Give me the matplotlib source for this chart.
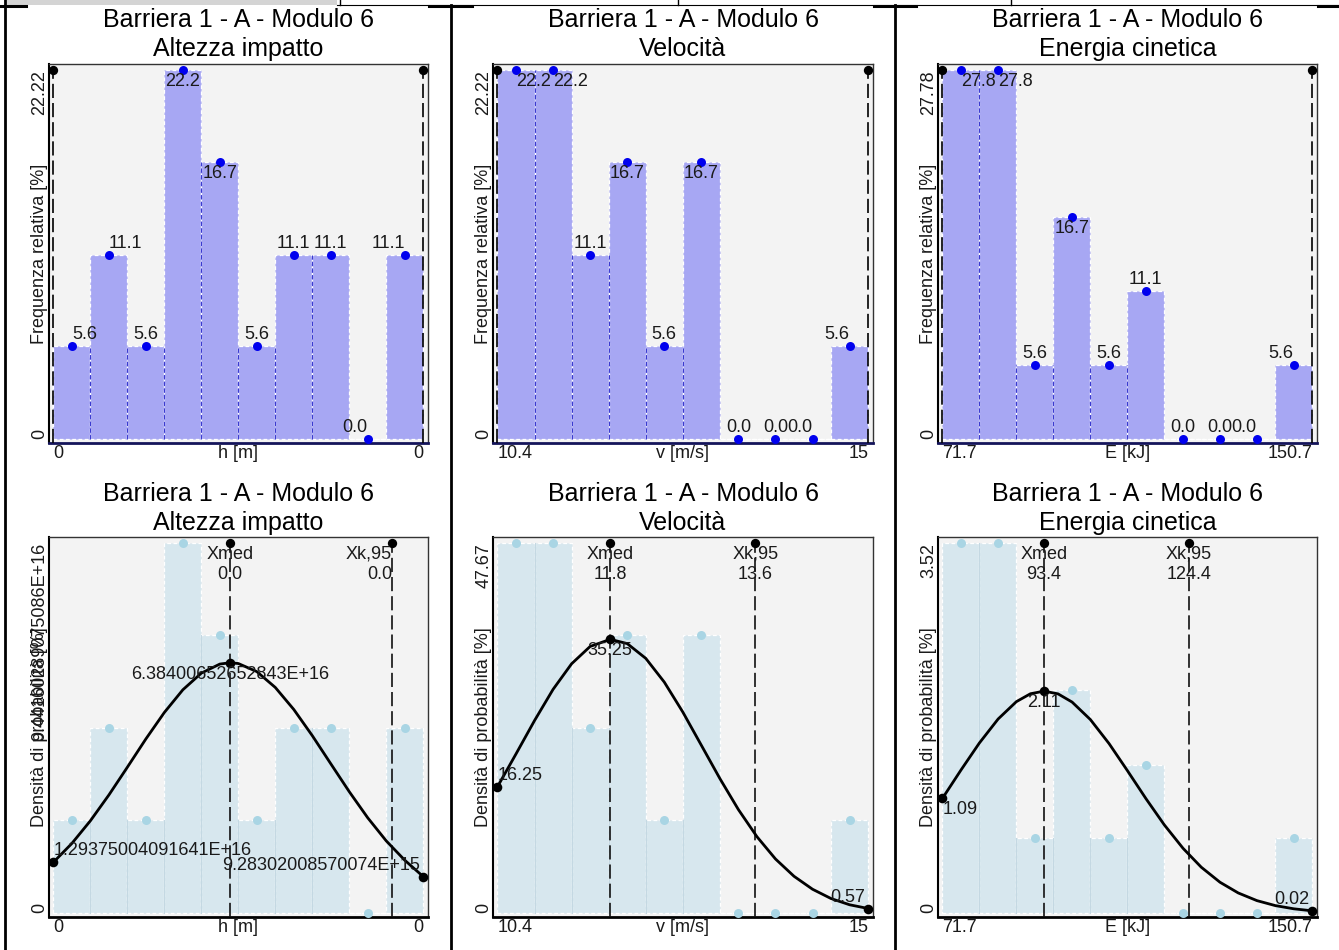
import matplotlib
matplotlib.use("Agg")
import matplotlib.pyplot as plt
from matplotlib.lines import Line2D
from matplotlib.patches import Rectangle
import numpy as np

W, H = 1339, 950
plt.rcParams['font.family'] = ['Liberation Sans', 'DejaVu Sans']

# ---------------- data ----------------
title_main = "Barriera 1 - A - Modulo 6"
subtitles = ["Altezza impatto", "Velocità", "Energia cinetica"]
xlabels = ["h [m]", "v [m/s]", "E [kJ]"]

# x ranges (Altezza shown in relative units: all values print as 0)
h_range = [0.0, 1.0]
v_range = [10.4, 15.0]
e_range = [71.7, 150.7]
h_xtick_labels = ["0", "0"]
v_xtick_labels = ["10.4", "15"]
e_xtick_labels = ["71.7", "150.7"]

# relative frequency [%] per bin
freq_h = [5.6, 11.1, 5.6, 22.2, 16.7, 5.6, 11.1, 11.1, 0.0, 11.1]
freq_v = [22.2, 22.2, 11.1, 16.7, 5.6, 16.7, 0.0, 0.0, 0.0, 5.6]
freq_e = [27.8, 27.8, 5.6, 16.7, 5.6, 11.1, 0.0, 0.0, 0.0, 5.6]
freq_ymax = [22.22, 22.22, 27.78]
freq_ymax_labels = ["22.22", "22.22", "27.78"]

# probability density axis maxima
dens_ymax = [9.44e16, 47.67, 3.52]
dens_ymax_labels = ["9.44160289075086E+16", "47.67", "3.52"]

# fitted density curves
curve_h_x = [0.0, 0.05, 0.10, 0.15, 0.20, 0.25, 0.30, 0.35, 0.40, 0.45, 0.478,
             0.50, 0.55, 0.60, 0.65, 0.70, 0.75, 0.80, 0.85, 0.90, 0.95, 1.0]
curve_h_y = [1.29375e16, 1.775e16, 2.352e16, 3.010e16, 3.719e16, 4.439e16, 5.115e16,
             5.693e16, 6.118e16, 6.349e16, 6.384e16, 6.363e16, 6.157e16, 5.753e16,
             5.191e16, 4.524e16, 3.807e16, 3.094e16, 2.427e16, 1.839e16, 1.346e16, 0.928e16]
curve_v_x = [10.40, 10.63, 10.86, 11.09, 11.32, 11.55, 11.80, 12.01, 12.24, 12.47, 12.70,
             12.93, 13.16, 13.39, 13.62, 13.85, 14.08, 14.31, 14.54, 14.77, 15.00]
curve_v_y = [16.25, 20.48, 24.78, 28.80, 32.10, 34.33, 35.25, 34.70, 32.80, 29.74, 25.88,
             21.60, 17.31, 13.31, 9.82, 6.95, 4.72, 3.05, 1.85, 1.05, 0.57]
curve_e_x = [71.7, 75.7, 79.6, 83.6, 87.5, 90.5, 93.4, 96.4, 99.4, 103.3, 107.3,
             111.2, 115.2, 119.1, 123.1, 127.0, 131.0, 134.9, 138.9, 142.8, 146.8, 150.7]
curve_e_y = [1.09, 1.362, 1.617, 1.845, 2.010, 2.085, 2.11, 2.084, 2.006, 1.840, 1.611,
             1.355, 1.086, 0.838, 0.615, 0.435, 0.292, 0.190, 0.117, 0.070, 0.039, 0.02]

# labelled curve points: left end, peak, right end
pts_h_x = [0.0, 0.478, 1.0]
pts_h_y = [1.29375004091641e16, 6.38400652652843e16, 9.28302008570074e15]
pts_h_labels = ["1.29375004091641E+16", "6.38400652652843E+16", "9.28302008570074E+15"]
pts_v_x = [10.4, 11.8, 15.0]
pts_v_y = [16.25, 35.25, 0.57]
pts_v_labels = ["16.25", "35.25", "0.57"]
pts_e_x = [71.7, 93.4, 150.7]
pts_e_y = [1.09, 2.11, 0.02]
pts_e_labels = ["1.09", "2.11", "0.02"]

# median and 95% characteristic values
xmed_pos = [0.478, 11.8, 93.4]
xmed_labels = ["0.0", "11.8", "93.4"]
xk95_pos = [0.916, 13.6, 124.4]
xk95_labels = ["0.0", "13.6", "124.4"]

# ---------------- style ----------------
FS = 13
TFS = 18
TXT = '#1a1a1a'
BG = '#f3f3f3'
DASH = (0, (8.5, 3))

fig = plt.figure(figsize=(W / 100, H / 100), dpi=100)


def px_axes(x0, y0, x1, y1):
    return fig.add_axes([x0 / W, 1 - y1 / H, (x1 - x0) / W, (y1 - y0) / H])


def style_axes(ax, bottom_color):
    ax.set_facecolor(BG)
    ax.set_xticks([])
    ax.set_yticks([])
    for s in ['top', 'right']:
        ax.spines[s].set_color('#333333')
        ax.spines[s].set_linewidth(1.0)
    ax.spines['left'].set_color('black')
    ax.spines['left'].set_linewidth(1.5)
    ax.spines['bottom'].set_color(bottom_color)
    ax.spines['bottom'].set_linewidth(2.0)


def axis_texts(ax, rng, xt_labels, xlabel, ymax, ymax_label, ylabel):
    kw = dict(textcoords='offset pixels', fontsize=FS, color=TXT)
    ax.annotate(xt_labels[0], xy=(rng[0], 0), xycoords=('data', 'axes fraction'),
                xytext=(0, -2), ha='left', va='top', **kw)
    ax.annotate(xt_labels[1], xy=(rng[1], 0), xycoords=('data', 'axes fraction'),
                xytext=(0, -2), ha='right', va='top', **kw)
    ax.annotate(xlabel, xy=(0.5, 0), xycoords='axes fraction',
                xytext=(0, -2), ha='center', va='top', **kw)
    ax.annotate("0", xy=(0, 0), xycoords=('axes fraction', 'data'),
                xytext=(-9, 0), ha='center', va='bottom', rotation=90, **kw)
    ax.annotate(ymax_label, xy=(0, ymax), xycoords=('axes fraction', 'data'),
                xytext=(-9, 0), ha='center', va='top', rotation=90, **kw)
    ax.annotate(ylabel, xy=(0, 0.5), xycoords='axes fraction',
                xytext=(-9, 0), ha='center', va='center', rotation=90, **kw)


def set_limits(ax, rng, ymax):
    span = rng[1] - rng[0]
    ax.set_xlim(rng[0] - 0.012 * span, rng[1] + 0.013 * span)
    ax.set_ylim(-0.011 * ymax, ymax * 1.016)


def bars(ax, rng, heights, fill, inner, inner_ls, dot_color):
    n = len(heights)
    edges = np.linspace(rng[0], rng[1], n + 1)
    w = edges[1] - edges[0]
    centers = edges[:-1] + w / 2
    ax.bar(centers, heights, width=w, color=fill, edgecolor='white',
           linestyle=(0, (3, 2)), linewidth=0.9, zorder=2)
    for i in range(1, n):
        top = min(heights[i - 1], heights[i])
        if top > 0:
            ax.plot([edges[i], edges[i]], [0, top], color=inner, ls=inner_ls,
                    lw=0.8, zorder=3)
    ax.scatter(centers, heights, s=42, color=dot_color, zorder=5, linewidths=0)
    return centers


def top_panel(ax, rng, freqs, ymax, ymax_label, xt_labels, xlabel):
    style_axes(ax, '#14145a')
    set_limits(ax, rng, ymax)
    centers = bars(ax, rng, freqs, '#a7a7f3', '#3b3bd0', (0, (4, 2)), '#0000ee')
    ylo = ax.get_ylim()[0]
    for xe in rng:
        ax.plot([xe, xe], [ylo, ymax], color='black', ls=DASH, lw=1.2, zorder=4)
        ax.scatter([xe], [ymax], s=45, color='black', zorder=6, linewidths=0)
    n = len(freqs)
    fmax = max(freqs)
    for i, (c, f) in enumerate(zip(centers, freqs)):
        below = f > fmax / 2
        if below:
            va, dy = 'top', -3
        else:
            va, dy = 'bottom', 3
        if i < 2:
            ha = 'left'
        elif i >= n - 2:
            ha = 'right'
        else:
            ha = 'center'
        ax.annotate(f"{f:.1f}", xy=(c, f), xytext=(0, dy), textcoords='offset pixels',
                    ha=ha, va=va, fontsize=FS, color=TXT, zorder=7)
    axis_texts(ax, rng, xt_labels, xlabel, ymax, ymax_label, "Frequenza relativa [%]")


def bottom_panel(ax, rng, freqs, fmax, dmax, dmax_label, cx, cy, px, py, plabels,
                 xmed, xmed_lab, xk, xk_lab, xt_labels, xlabel):
    style_axes(ax, 'black')
    set_limits(ax, rng, dmax)
    heights = [f * dmax / fmax for f in freqs]
    bars(ax, rng, heights, '#d7e7ee', '#c4d8e2', '-', '#a9d5e4')
    ylo = ax.get_ylim()[0]
    span = rng[1] - rng[0]
    for x, name, lab in [(xmed, "Xmed", xmed_lab), (xk, "Xk,95", xk_lab)]:
        ax.plot([x, x], [ylo, dmax], color='#111111', ls=DASH, lw=1.2, zorder=4)
        ax.scatter([x], [dmax], s=45, color='black', zorder=8, linewidths=0)
        ha = 'right' if (x - rng[0]) / span > 0.85 else 'center'
        ax.annotate(f"{name}\n{lab}", xy=(x, dmax), xytext=(0, -3), textcoords='offset pixels',
                    ha=ha, va='top', fontsize=FS, color=TXT, linespacing=1.2, zorder=9)
    ax.plot(cx, cy, color='black', lw=2.0, zorder=6, solid_capstyle='round')
    ax.scatter(px, py, s=48, color='black', zorder=8, linewidths=0)
    peak = max(py)
    for j, (x, y, lab) in enumerate(zip(px, py, plabels)):
        below = y > peak / 2
        va, dy = ('top', -3) if below else ('bottom', 3)
        if j == 0:
            ha, dx = 'left', 0
        elif j == len(px) - 1:
            ha, dx = 'right', -3
        else:
            ha, dx = 'center', 0
        ax.annotate(lab, xy=(x, y), xytext=(dx, dy), textcoords='offset pixels',
                    ha=ha, va=va, fontsize=FS, color=TXT, zorder=9)
    axis_texts(ax, rng, xt_labels, xlabel, dmax, dmax_label, "Densità di probabilità [%]")


ranges = [h_range, v_range, e_range]
xt_all = [h_xtick_labels, v_xtick_labels, e_xtick_labels]
freqs_all = [freq_h, freq_v, freq_e]
curves = [(curve_h_x, curve_h_y), (curve_v_x, curve_v_y), (curve_e_x, curve_e_y)]
pts = [(pts_h_x, pts_h_y, pts_h_labels), (pts_v_x, pts_v_y, pts_v_labels),
       (pts_e_x, pts_e_y, pts_e_labels)]

col_px = [(49, 428), (493, 873), (938, 1317)]
top_px = (64, 443)
bot_px = (537, 917)

for k in range(3):
    x0, x1 = col_px[k]
    xc = (x0 + x1) / 2
    # titles
    fig.text(xc / W, 1 - 20 / H, title_main, ha='center', va='center', fontsize=TFS, color='black')
    fig.text(xc / W, 1 - 49 / H, subtitles[k], ha='center', va='center', fontsize=TFS, color='black')
    fig.text(xc / W, 1 - 494 / H, title_main, ha='center', va='center', fontsize=TFS, color='black')
    fig.text(xc / W, 1 - 523 / H, subtitles[k], ha='center', va='center', fontsize=TFS, color='black')

    ax_t = px_axes(x0, top_px[0], x1, top_px[1])
    top_panel(ax_t, ranges[k], freqs_all[k], freq_ymax[k], freq_ymax_labels[k],
              xt_all[k], xlabels[k])
    ax_b = px_axes(x0, bot_px[0], x1, bot_px[1])
    bottom_panel(ax_b, ranges[k], freqs_all[k], freq_ymax[k], dens_ymax[k], dens_ymax_labels[k],
                 curves[k][0], curves[k][1], pts[k][0], pts[k][1], pts[k][2],
                 xmed_pos[k], xmed_labels[k], xk95_pos[k], xk95_labels[k],
                 xt_all[k], xlabels[k])

# ---------------- page/table frame ----------------
def fline(xs, ys, lw, color='black'):
    fig.add_artist(Line2D([x / W for x in xs], [1 - y / H for y in ys], lw=lw,
                          color=color, transform=fig.transFigure, zorder=20))

fig.add_artist(Rectangle((7 / W, 1 - 5 / H), 330 / W, 5 / H, transform=fig.transFigure,
                         facecolor='#d4d4d4', edgecolor='none', zorder=19))
fline([337, W], [5, 5], 0.8)
fline([340, 340], [0, 5], 1.0)
fline([678, 678], [0, 5], 1.0)
fline([1011, 1011], [0, 5], 1.0)
fline([5, 5], [0, H], 2.0)
fline([451, 451], [5, H], 2.0)
fline([895, 895], [5, H], 2.0)
for a, b in [(0, 26), (429, 472), (874, 916), (1318, W)]:
    fline([a, b], [5.5, 5.5], 2.2)

fig.savefig("out.png", dpi=100)
